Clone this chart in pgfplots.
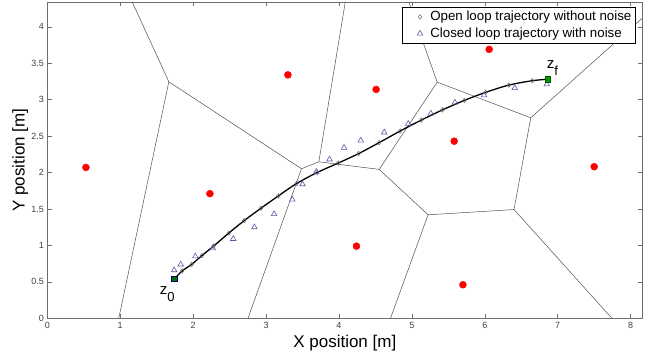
\documentclass[border=0pt]{standalone}
\usepackage{fontspec}
\setmainfont{Liberation Sans}
\usepackage{pgfplots}
\pgfplotsset{compat=1.18}
\definecolor{vor}{RGB}{80,80,80}
\definecolor{tri}{RGB}{90,90,165}
\definecolor{dia}{RGB}{105,105,105}
\definecolor{axgray}{RGB}{110,110,110}
\begin{document}
\begin{tikzpicture}
\begin{axis}[
  name=ax,
  width=595pt, height=316.3pt, scale only axis,
  xmin=0, xmax=8.16, ymin=0, ymax=4.34,
  xtick={0,1,...,8}, ytick={0,0.5,...,4},
  tick align=inside, major tick length=4.5pt,
  xtick pos=both, ytick pos=both,
  xticklabel pos=lower, yticklabel pos=left,
  tick style={axgray, line width=0.5pt},
  axis line style={axgray, line width=0.7pt},
  ticklabel style={font=\fontsize{9}{10}\selectfont, text=black!75},
  /pgf/number format/assume math mode=true,
  xlabel={X position [m]}, ylabel={Y position [m]},
  label style={font=\fontsize{17}{20}\selectfont},
  xlabel style={at={(axis description cs:0.5,-0.078)}, anchor=center},
  ylabel style={at={(axis description cs:-0.0455,0.5)}, anchor=center},
  legend style={at={(0.988,0.984)}, anchor=north east,
    font=\fontsize{13.3}{15}\selectfont, draw=black, line width=0.5pt,
    inner xsep=1.5pt, inner ysep=2pt, row sep=1.5pt},
  legend cell align=left,
  legend image code/.code={%
    \path (0pt,-3pt) (24pt,3pt);
    \draw[#1] plot coordinates {(16pt,0pt)};},
]
% Voronoi edges
\addplot[vor, line width=0.5pt, forget plot] coordinates {(1.165,4.34) (1.667,3.245)};
\addplot[vor, line width=0.5pt, forget plot] coordinates {(1.667,3.245) (0.98,0)};
\addplot[vor, line width=0.5pt, forget plot] coordinates {(1.667,3.245) (3.486,2.052)};
\addplot[vor, line width=0.5pt, forget plot] coordinates {(3.486,2.052) (2.752,0)};
\addplot[vor, line width=0.5pt, forget plot] coordinates {(3.486,2.052) (3.724,2.147)};
\addplot[vor, line width=0.5pt, forget plot] coordinates {(3.724,2.147) (4.087,4.34)};
\addplot[vor, line width=0.5pt, forget plot] coordinates {(3.724,2.147) (4.552,2.043)};
\addplot[vor, line width=0.5pt, forget plot] coordinates {(4.552,2.043) (5.347,3.240)};
\addplot[vor, line width=0.5pt, forget plot] coordinates {(5.347,3.240) (4.957,4.34)};
\addplot[vor, line width=0.5pt, forget plot] coordinates {(5.347,3.240) (6.630,2.751)};
\addplot[vor, line width=0.5pt, forget plot] coordinates {(6.630,2.751) (8.16,4.119)};
\addplot[vor, line width=0.5pt, forget plot] coordinates {(4.552,2.043) (5.222,1.420)};
\addplot[vor, line width=0.5pt, forget plot] coordinates {(5.222,1.420) (4.707,0)};
\addplot[vor, line width=0.5pt, forget plot] coordinates {(5.222,1.420) (6.401,1.492)};
\addplot[vor, line width=0.5pt, forget plot] coordinates {(6.401,1.492) (6.630,2.751)};
\addplot[vor, line width=0.5pt, forget plot] coordinates {(6.401,1.492) (7.743,0)};
% sites
\addplot[only marks, mark=*, mark size=3.5pt, color=red, forget plot] coordinates {
(0.53,2.07) (2.23,1.71) (3.30,3.34) (4.51,3.14) (6.06,3.69)
(5.58,2.43) (4.24,0.99) (7.50,2.08) (5.70,0.46)};
% open loop trajectory line
\addplot[black, line width=1.3pt, smooth, forget plot] coordinates {
(1.74,0.54) (1.85,0.65) (1.98,0.74) (2.12,0.86) (2.28,0.99) (2.49,1.17)
(2.70,1.34) (2.93,1.51) (3.17,1.68) (3.42,1.85) (3.70,2.00) (3.99,2.13)
(4.27,2.26) (4.55,2.41) (4.84,2.57) (5.13,2.72) (5.42,2.86) (5.72,2.99)
(6.01,3.10) (6.33,3.20) (6.65,3.26) (6.86,3.28)};
\addplot[only marks, mark=diamond, mark size=2.3pt, color=dia, mark options={line width=0.5pt}] coordinates {
(1.74,0.54) (1.85,0.65) (1.98,0.74) (2.12,0.86) (2.28,0.99) (2.49,1.17)
(2.70,1.34) (2.93,1.51) (3.17,1.68) (3.42,1.85) (3.70,2.00) (3.99,2.13)
(4.27,2.26) (4.55,2.41) (4.84,2.57) (5.13,2.72) (5.42,2.86) (5.72,2.99)
(6.01,3.10) (6.33,3.20) (6.65,3.26) (6.86,3.28)};
\addlegendentry{Open loop trajectory without noise}
\addplot[only marks, mark=triangle, mark size=3.2pt, color=tri, mark options={line width=0.6pt}] coordinates {
(1.74,0.66) (1.83,0.74) (2.03,0.85) (2.27,0.96) (2.55,1.09) (2.84,1.25)
(3.11,1.43) (3.36,1.63) (3.50,1.84) (3.69,2.01) (3.87,2.18) (4.07,2.34)
(4.30,2.44) (4.62,2.55) (4.95,2.67) (5.26,2.81) (5.59,2.96) (5.99,3.06)
(6.41,3.16) (6.85,3.21)};
\addlegendentry{Closed loop trajectory with noise}
% start and goal
\addplot[only marks, mark=square*, mark size=2.6pt, draw=blue!40!black, fill=green!45!black, forget plot] coordinates {(1.74,0.54)};
\addplot[only marks, mark=square*, mark size=2.6pt, draw=green!35!black, fill=green!60!black, forget plot] coordinates {(6.86,3.28)};
\node[anchor=base west, inner sep=0pt, font=\fontsize{15}{15}\selectfont] at (axis cs:1.54,0.32) {z\raisebox{-6.5pt}{\fontsize{13}{13}\selectfont 0}};
\node[anchor=base west, inner sep=0pt, font=\fontsize{15}{15}\selectfont] at (axis cs:6.85,3.43) {z\raisebox{-7pt}{\fontsize{13}{13}\selectfont f}};
\end{axis}
\pgfresetboundingbox
\path ([shift={(-47.3pt,-39.7pt)}]ax.south west) rectangle ([shift={(14.7pt,2pt)}]ax.north east);
\end{tikzpicture}
\end{document}
